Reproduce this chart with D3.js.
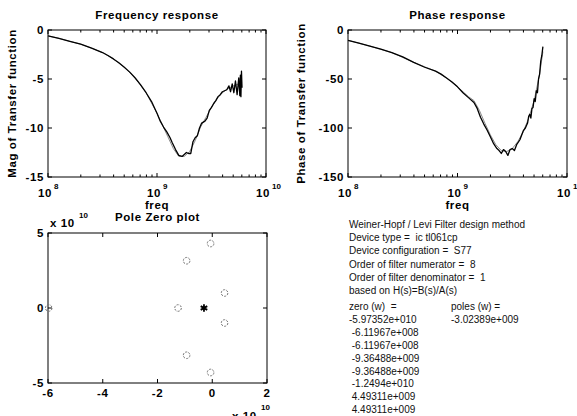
<!DOCTYPE html>
<html><head><meta charset="utf-8">
<script src="https://cdn.jsdelivr.net/npm/d3@7"></script>
<style>
body{margin:0;background:#fff;}
svg{display:block;}
text{font-family:"Liberation Sans",Arial,sans-serif;}
</style></head>
<body>
<script>
// ---- data ----
// log10(freq) positions of samples
const magFreqLog = [8.00,8.10,8.20,8.30,8.40,8.50,8.55,8.60,8.65,8.70,8.75,8.80,8.85,8.90,8.95,9.00,9.03,9.06,9.09,9.12,9.14,9.17,9.20,9.23,9.25,9.27,9.29,9.31,9.33,9.35,9.37,9.39,9.41,9.44,9.46,9.48,9.50,9.52,9.54,9.56,9.58,9.60,9.62,9.64,9.66,9.675,9.69,9.705,9.72,9.735,9.75,9.76,9.765,9.77,9.775,9.78];
const magMeasured = [-0.6,-0.85,-1.15,-1.45,-1.85,-2.3,-2.6,-2.95,-3.35,-3.8,-4.3,-4.9,-5.6,-6.4,-7.3,-8.5,-9.3,-9.9,-10.4,-11.0,-11.5,-12.2,-12.8,-12.9,-12.7,-12.5,-12.6,-12.6,-11.4,-11.0,-10.8,-10.0,-9.5,-9.3,-9.0,-8.2,-7.9,-7.5,-7.2,-6.8,-6.6,-6.3,-6.2,-6.1,-5.7,-6.3,-5.5,-6.4,-5.2,-6.6,-4.9,-6.7,-4.6,-6.8,-4.2,-5.9];
const modelFreqLog = [8.00,8.10,8.20,8.30,8.40,8.50,8.60,8.70,8.80,8.90,9.00,9.05,9.10,9.15,9.20,9.25,9.30,9.35,9.40,9.45,9.50,9.55,9.60,9.65,9.70,9.75,9.78];
const magModel = [-0.6,-0.85,-1.15,-1.45,-1.85,-2.3,-2.95,-3.8,-4.9,-6.4,-8.5,-9.7,-10.9,-12.1,-12.9,-12.9,-12.4,-11.3,-9.9,-8.9,-7.9,-7.0,-6.4,-6.0,-5.7,-5.5,-5.4];

const phaseFreqLog = [8.00,8.10,8.20,8.30,8.40,8.50,8.60,8.70,8.80,8.85,8.90,8.95,9.00,9.05,9.10,9.15,9.18,9.21,9.24,9.27,9.30,9.33,9.36,9.38,9.40,9.42,9.44,9.46,9.48,9.50,9.52,9.54,9.57,9.60,9.62,9.64,9.65,9.66,9.67,9.68,9.69,9.70,9.71,9.72,9.73,9.74,9.75,9.76,9.77,9.78];
const phaseMeasured = [-10.5,-13.5,-16.5,-19.5,-23,-27.5,-33,-38,-42,-45,-49,-53,-58,-64,-69,-74,-80,-89,-96,-102,-109,-116,-121,-123,-126,-122,-124,-128,-122,-121,-123,-117,-112,-103,-100,-95,-88,-86,-90,-80,-79,-70,-73,-62,-64,-50,-45,-32,-26,-17];
const phaseModelFreqLog = [8.00,8.20,8.40,8.60,8.80,8.90,9.00,9.10,9.15,9.20,9.25,9.30,9.35,9.40,9.45,9.50,9.55,9.60,9.65,9.70,9.75,9.78];
const phaseModel = [-10.5,-16.5,-23,-33,-42,-49,-58,-68,-72,-82,-95,-107,-117,-123,-124,-121,-114,-104,-90,-72,-45,-22];

const zerosRe = [-5.97352e10,-6.11967e8,-6.11967e8,-9.36488e9,-9.36488e9,-1.2494e10,4.49311e9,4.49311e9];
const zerosIm = [0,4.3e10,-4.3e10,3.15e10,-3.15e10,0,1.0e10,-1.0e10];
const polesRe = [-3.02389e9];
const polesIm = [0];

const magTicks = [0,-5,-10,-15];
const phaseTicks = [0,-50,-100,-150];
const pzXTicks = [-6,-4,-2,0,2];
const pzYTicks = [5,0,-5];
const decadeTicks = [8,9,10];

const infoLines = ["Weiner-Hopf / Levi Filter design method","Device type =  ic tl061cp","Device configuration =  S77","Order of filter numerator =  8","Order of filter denominator =  1","based on H(s)=B(s)/A(s)"];
const zeroLabels = ["zero (w)  =","-5.97352e+010"," -6.11967e+008"," -6.11967e+008"," -9.36488e+009"," -9.36488e+009"," -1.2494e+010"," 4.49311e+009"," 4.49311e+009"];
const poleLabels = ["poles (w) =","-3.02389e+009"];

// ---- drawing ----
const W=577,H=416;
const svg=d3.select("body").append("svg").attr("width",W).attr("height",H);

function frame(g,x0,x1,y0,y1){
  g.append("rect").attr("x",x0).attr("y",y0).attr("width",x1-x0).attr("height",y1-y0)
   .attr("fill","none").attr("stroke","#000").attr("stroke-width",1);
}
function bt(g,x,y,txt,size,anchor){
  return g.append("text").attr("x",x).attr("y",y).attr("font-size",size).attr("font-weight","bold")
    .attr("text-anchor",anchor||"middle").attr("letter-spacing","0.6px").attr("fill","#000").text(txt);
}

function logPanel(cfg){
  const g=svg.append("g");
  const x=d3.scaleLog().domain([1e8,1e10]).range([cfg.x0,cfg.x1]);
  const y=d3.scaleLinear().domain(cfg.ydom).range([cfg.y1,cfg.y0]);
  frame(g,cfg.x0,cfg.x1,cfg.y0,cfg.y1);
  x.ticks().forEach(t=>{
    const major = Math.abs(Math.log10(t)-Math.round(Math.log10(t)))<1e-9;
    const L = major?4:2.5;
    g.append("line").attr("x1",x(t)).attr("x2",x(t)).attr("y1",cfg.y1).attr("y2",cfg.y1-L).attr("stroke","#000");
    g.append("line").attr("x1",x(t)).attr("x2",x(t)).attr("y1",cfg.y0).attr("y2",cfg.y0+L).attr("stroke","#000");
  });
  cfg.yticks.forEach(t=>{
    g.append("line").attr("x1",cfg.x0).attr("x2",cfg.x0+4).attr("y1",y(t)).attr("y2",y(t)).attr("stroke","#000");
    g.append("line").attr("x1",cfg.x1).attr("x2",cfg.x1-4).attr("y1",y(t)).attr("y2",y(t)).attr("stroke","#000");
    bt(g,cfg.x0-4,y(t)+4,String(t),11.5,"end");
  });
  decadeTicks.forEach(d=>{
    const px=x(Math.pow(10,d));
    g.append("text").attr("x",px-3).attr("y",197).attr("font-size",11.5).attr("font-weight","bold")
      .attr("text-anchor","middle").attr("letter-spacing","0.6px").text("10");
    g.append("text").attr("x",px+6).attr("y",189).attr("font-size",8).attr("font-weight","bold")
      .attr("text-anchor","start").text(String(d));
  });
  bt(g,(cfg.x0+cfg.x1)/2,19,cfg.title,11.5);
  bt(g,(cfg.x0+cfg.x1)/2,209,"freq",11.5);
  g.append("text").attr("transform",`translate(${cfg.ylabX},${(cfg.y0+cfg.y1)/2}) rotate(-90)`)
    .attr("font-size",11.5).attr("font-weight","bold").attr("text-anchor","middle")
    .attr("letter-spacing","0.6px").text(cfg.ylabel);
  const line=d3.line().x(d=>x(Math.pow(10,d[0]))).y(d=>y(d[1]));
  g.append("path").datum(d3.zip(cfg.modelX,cfg.modelY)).attr("d",line)
    .attr("fill","none").attr("stroke","#8a8a8a").attr("stroke-width",1);
  g.append("path").datum(d3.zip(cfg.measX,cfg.measY)).attr("d",line)
    .attr("fill","none").attr("stroke","#000").attr("stroke-width",1.3).attr("stroke-linejoin","round");
}

logPanel({x0:48,x1:266,y0:30,y1:177,ydom:[-15,0],yticks:magTicks,title:"Frequency response",
  ylabel:"Mag of Transfer function",ylabX:16,measX:magFreqLog,measY:magMeasured,modelX:modelFreqLog,modelY:magModel});
logPanel({x0:348,x1:567,y0:30,y1:177,ydom:[-150,0],yticks:phaseTicks,title:"Phase response",
  ylabel:"Phase of Transfer function",ylabX:305,measX:phaseFreqLog,measY:phaseMeasured,modelX:phaseModelFreqLog,modelY:phaseModel});

// pole zero plot
(function(){
  const g=svg.append("g");
  const x0=48,x1=267,y0=233,y1=383;
  const x=d3.scaleLinear().domain([-6e10,2e10]).range([x0,x1]);
  const y=d3.scaleLinear().domain([-5e10,5e10]).range([y1,y0]);
  frame(g,x0,x1,y0,y1);
  pzXTicks.forEach(t=>{
    const px=x(t*1e10);
    g.append("line").attr("x1",px).attr("x2",px).attr("y1",y1).attr("y2",y1-4).attr("stroke","#000");
    g.append("line").attr("x1",px).attr("x2",px).attr("y1",y0).attr("y2",y0+4).attr("stroke","#000");
    bt(g,px,397,String(t),11.5);
  });
  pzYTicks.forEach(t=>{
    const py=y(t*1e10);
    g.append("line").attr("x1",x0).attr("x2",x0+4).attr("y1",py).attr("y2",py).attr("stroke","#000");
    g.append("line").attr("x1",x1).attr("x2",x1-4).attr("y1",py).attr("y2",py).attr("stroke","#000");
    bt(g,x0-4,py+4,String(t),11.5,"end");
  });
  bt(g,(x0+x1)/2,221,"Pole Zero plot",11.5);
  bt(g,50,227,"x 10",11.5,"start");
  g.append("text").attr("x",79).attr("y",218).attr("font-size",8).attr("font-weight","bold").text("10");
  bt(g,232,420,"x 10",11.5,"start");
  g.append("text").attr("x",261).attr("y",410).attr("font-size",8).attr("font-weight","bold").text("10");
  const zd=d3.zip(zerosRe,zerosIm);
  g.selectAll("circle.z").data(zd).enter().append("circle")
    .attr("cx",d=>x(d[0])).attr("cy",d=>y(d[1])).attr("r",3.3)
    .attr("fill","none").attr("stroke","#777").attr("stroke-width",1).attr("stroke-dasharray","2.2,1.2");
  const pd=d3.zip(polesRe,polesIm);
  g.selectAll("path.p").data(pd).enter().append("path")
    .attr("transform",d=>`translate(${x(d[0])},${y(d[1])})`)
    .attr("d",d3.symbol().type(d3.symbolAsterisk).size(40))
    .attr("fill","none").attr("stroke","#000").attr("stroke-width",1.8);
})();

// info text
(function(){
  const g=svg.append("g").attr("fill","#111");
  infoLines.forEach((s,i)=>{
    g.append("text").attr("x",349).attr("y",228+i*13.2).attr("font-size",10).attr("xml:space","preserve").text(s);
  });
  zeroLabels.forEach((s,i)=>{
    g.append("text").attr("x",349).attr("y",310+i*12.9).attr("font-size",10).attr("xml:space","preserve").text(s);
  });
  poleLabels.forEach((s,i)=>{
    g.append("text").attr("x",451).attr("y",310+i*12.9).attr("font-size",10).attr("xml:space","preserve").text(s);
  });
})();
</script>
</body></html>
